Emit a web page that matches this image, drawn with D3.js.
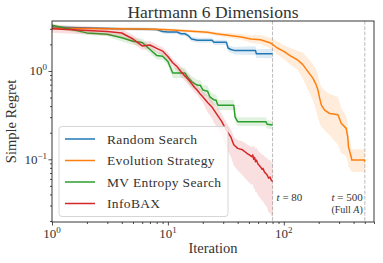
<!DOCTYPE html>
<html>
<head>
<meta charset="utf-8">
<script src="https://cdn.jsdelivr.net/npm/d3@7/dist/d3.min.js"></script>
<style>
  body { margin: 0; background: #fff; }
</style>
</head>
<body>
<div id="chart"></div>
<script>
// values
const seriesNames = ["Random Search", "Evolution Strategy", "MV Entropy Search", "InfoBAX"];
const seriesColors = ["#1f77b4", "#ff7f0e", "#2ca02c", "#d62728"];

const rsIter = [1, 2, 4, 8, 9, 10, 12, 13, 14, 15, 16, 18, 24, 25, 32, 33, 35, 38, 57, 58, 80];
const rsMean = [3.15, 3.06, 3.00, 2.94, 2.80, 2.76, 2.76, 2.64, 2.64, 2.51, 2.30, 2.23, 2.23, 2.11, 2.11, 1.82, 1.75, 1.70, 1.70, 1.57, 1.57];
const rsLo = [3.06, 2.96, 2.90, 2.83, 2.66, 2.62, 2.62, 2.49, 2.49, 2.37, 2.16, 2.09, 2.09, 1.97, 1.97, 1.67, 1.60, 1.54, 1.52, 1.40, 1.39];
const rsHi = [3.24, 3.16, 3.10, 3.06, 2.94, 2.90, 2.90, 2.80, 2.80, 2.66, 2.45, 2.38, 2.38, 2.26, 2.26, 1.98, 1.91, 1.87, 1.90, 1.76, 1.78];

const esIter = [1, 6, 9, 11, 16, 22, 26, 33, 43, 52, 63, 77, 88, 100, 115, 131, 146, 161, 178, 190, 197, 204, 211, 225, 249, 293, 313, 345, 356, 361, 381, 386, 496, 500];
const esMean = [3.05, 2.99, 2.95, 2.91, 2.82, 2.74, 2.64, 2.54, 2.43, 2.30, 2.26, 2.07, 1.82, 1.67, 1.47, 1.34, 1.18, 0.99, 0.83, 0.70, 0.61, 0.49, 0.41, 0.36, 0.33, 0.32, 0.256, 0.224, 0.180, 0.139, 0.107, 0.098, 0.098, 0.094];
const esLo = [2.93, 2.88, 2.84, 2.80, 2.71, 2.63, 2.51, 2.40, 2.25, 2.09, 2.02, 1.80, 1.54, 1.36, 1.17, 1.03, 0.82, 0.62, 0.47, 0.36, 0.30, 0.255, 0.23, 0.214, 0.186, 0.146, 0.117, 0.108, 0.094, 0.083, 0.074, 0.072, 0.072, 0.069];
const esHi = [3.17, 3.11, 3.07, 3.03, 2.93, 2.85, 2.77, 2.69, 2.62, 2.53, 2.53, 2.38, 2.15, 1.95, 1.81, 1.69, 1.62, 1.39, 1.20, 1.04, 0.90, 0.74, 0.66, 0.60, 0.55, 0.51, 0.38, 0.31, 0.25, 0.19, 0.142, 0.130, 0.130, 0.125];

const mvIter = [1, 2, 3, 4, 5, 6, 7, 8, 9, 10, 11, 14, 15, 16, 17, 18, 19, 20, 22, 23, 25, 26, 27, 37, 38, 40, 70, 72, 80];
const mvMean = [3.29, 2.70, 2.60, 2.38, 2.17, 2.10, 1.75, 1.50, 1.47, 1.28, 0.95, 0.95, 0.83, 0.76, 0.72, 0.69, 0.69, 0.61, 0.59, 0.51, 0.47, 0.47, 0.41, 0.41, 0.30, 0.267, 0.267, 0.249, 0.245];
const mvLo = [3.13, 2.57, 2.48, 2.16, 1.97, 1.91, 1.59, 1.36, 1.34, 1.16, 0.83, 0.83, 0.72, 0.66, 0.63, 0.60, 0.60, 0.53, 0.51, 0.44, 0.41, 0.41, 0.36, 0.36, 0.27, 0.238, 0.238, 0.222, 0.219];
const mvHi = [3.45, 2.84, 2.73, 2.62, 2.39, 2.31, 1.93, 1.65, 1.62, 1.41, 1.09, 1.09, 0.95, 0.87, 0.83, 0.79, 0.79, 0.70, 0.68, 0.59, 0.54, 0.54, 0.47, 0.47, 0.34, 0.299, 0.299, 0.279, 0.274];

const ibIter = [1, 2, 3, 4, 5, 6, 7, 8, 9, 10, 11, 12, 13, 14, 15, 16, 17, 18, 19, 20, 22, 24, 25, 27, 29, 31, 33, 35, 37, 40, 44, 48, 50, 53, 54, 55, 56, 57, 58, 60, 61, 63, 65, 66, 68, 70, 72, 74, 76, 78, 80];
const ibMean = [3.01, 2.88, 2.79, 2.69, 2.30, 1.92, 1.97, 1.80, 1.68, 1.46, 1.24, 1.12, 0.98, 0.88, 0.80, 0.72, 0.65, 0.60, 0.55, 0.51, 0.44, 0.39, 0.36, 0.31, 0.27, 0.23, 0.20, 0.178, 0.146, 0.133, 0.128, 0.117, 0.113, 0.107, 0.112, 0.100, 0.105, 0.094, 0.098, 0.088, 0.086, 0.082, 0.077, 0.079, 0.072, 0.069, 0.066, 0.061, 0.063, 0.058, 0.056];
const ibLo = [2.71, 2.59, 2.51, 2.42, 2.07, 1.73, 1.77, 1.62, 1.51, 1.32, 1.12, 1.01, 0.86, 0.77, 0.70, 0.63, 0.57, 0.53, 0.48, 0.44, 0.34, 0.29, 0.26, 0.22, 0.19, 0.15, 0.125, 0.106, 0.085, 0.075, 0.066, 0.058, 0.055, 0.051, 0.053, 0.046, 0.048, 0.042, 0.043, 0.039, 0.038, 0.036, 0.034, 0.034, 0.031, 0.030, 0.028, 0.025, 0.025, 0.023, 0.022];
const ibHi = [3.34, 3.20, 3.10, 2.99, 2.55, 2.13, 2.19, 2.00, 1.86, 1.62, 1.38, 1.24, 1.12, 1.00, 0.91, 0.82, 0.74, 0.68, 0.63, 0.59, 0.53, 0.47, 0.43, 0.38, 0.33, 0.28, 0.245, 0.22, 0.18, 0.165, 0.16, 0.148, 0.143, 0.137, 0.145, 0.135, 0.142, 0.130, 0.136, 0.125, 0.122, 0.118, 0.112, 0.114, 0.108, 0.105, 0.103, 0.097, 0.100, 0.093, 0.090];

const xMajor = [1, 10, 100];
const yMajor = [0.1, 1];
const xMinor = [2, 3, 4, 5, 6, 7, 8, 9, 20, 30, 40, 50, 60, 70, 80, 90, 200, 300, 400, 500, 600];
const yMinor = [0.02, 0.03, 0.04, 0.05, 0.06, 0.07, 0.08, 0.09, 0.2, 0.3, 0.4, 0.5, 0.6, 0.7, 0.8, 0.9, 2, 3];
const budgetLines = [80, 500];

const W = 383, H = 263;
const margin = {top: 21, right: 9, bottom: 41, left: 52},
    width = W - margin.left - margin.right,
    height = H - margin.top - margin.bottom;
const serif = "'Liberation Serif', 'Times New Roman', 'DejaVu Serif', serif";
const ink = "#333";

const svg = d3.select("#chart")
  .append("svg")
    .attr("width", W)
    .attr("height", H)
    .attr("font-family", serif)
    .style("font-family", serif);

const g = svg.append("g")
    .attr("transform", `translate(${margin.left}, ${margin.top})`);

const x = d3.scaleLog().domain([1, 600]).range([0, width]);
const y = d3.scaleLog().domain([0.0195, 3.68]).range([height, 0]);

g.append("clipPath").attr("id", "plotclip")
  .append("rect").attr("width", width).attr("height", height);

const plot = g.append("g").attr("clip-path", "url(#plotclip)");

// dashed budget markers
plot.selectAll("budget")
  .data(budgetLines)
  .enter()
  .append("line")
    .attr("x1", d => x(d)).attr("x2", d => x(d))
    .attr("y1", 0).attr("y2", height)
    .attr("stroke", "#bbb")
    .attr("stroke-width", 1)
    .attr("stroke-dasharray", "3.7,1.6");

const series = [
  {iter: rsIter, mean: rsMean, lo: rsLo, hi: rsHi},
  {iter: esIter, mean: esMean, lo: esLo, hi: esHi},
  {iter: mvIter, mean: mvMean, lo: mvLo, hi: mvHi},
  {iter: ibIter, mean: ibMean, lo: ibLo, hi: ibHi}
].map((s, i) => ({
  name: seriesNames[i],
  color: seriesColors[i],
  rows: s.iter.map((t, j) => ({t: t, v: s.mean[j], lo: s.lo[j], hi: s.hi[j]}))
}));

const band = d3.area()
  .x(d => x(d.t))
  .y0(d => y(d.lo))
  .y1(d => y(d.hi));

const line = d3.line()
  .x(d => x(d.t))
  .y(d => y(d.v));

series.forEach(function(s) {
  plot.append("path")
    .datum(s.rows)
    .attr("d", band)
    .attr("fill", s.color)
    .attr("fill-opacity", 0.15)
    .attr("stroke", "none");
  plot.append("path")
    .datum(s.rows)
    .attr("d", line)
    .attr("fill", "none")
    .attr("stroke", s.color)
    .attr("stroke-width", 1.5)
    .attr("stroke-linejoin", "round");
});

// annotations
const annot = g.append("g").attr("font-size", 11).attr("fill", ink);
annot.append("text")
  .attr("x", x(80) + 4).attr("y", 180)
  .html('<tspan font-style="italic">t</tspan> = 80');
annot.append("text")
  .attr("x", x(500) - 2).attr("y", 180)
  .attr("text-anchor", "end")
  .html('<tspan font-style="italic">t</tspan> = 500');
annot.append("text")
  .attr("x", x(500) - 2).attr("y", 192)
  .attr("text-anchor", "end")
  .attr("font-size", 10)
  .html('(Full <tspan font-style="italic">A</tspan>)');

// axes
g.append("g")
  .attr("transform", `translate(0, ${height})`)
  .call(d3.axisBottom(x).tickValues(xMajor).tickSize(3.5).tickFormat(""));
g.append("g")
  .attr("transform", `translate(0, ${height})`)
  .call(d3.axisBottom(x).tickValues(xMinor).tickSize(2).tickFormat(""));
g.append("g")
  .call(d3.axisLeft(y).tickValues(yMajor).tickSize(3.5).tickFormat(""));
g.append("g")
  .call(d3.axisLeft(y).tickValues(yMinor).tickSize(2).tickFormat(""));
g.selectAll(".domain").remove();
g.selectAll(".tick line").attr("stroke", "#222").attr("stroke-width", 0.8);

const expo = v => Math.round(Math.log10(v));
const supLabel = function(sel, v) {
  const e = expo(v);
  sel.append("tspan").text("10");
  sel.append("tspan")
    .attr("dy", -5)
    .attr("font-size", 9)
    .text(e < 0 ? "\u2212" + (-e) : String(e));
};

xMajor.forEach(function(v) {
  const t = g.append("text")
    .attr("x", x(v))
    .attr("y", height + 16)
    .attr("text-anchor", "middle")
    .attr("font-size", 13)
    .attr("fill", ink);
  supLabel(t, v);
});

yMajor.forEach(function(v) {
  const t = g.append("text")
    .attr("x", -5)
    .attr("y", y(v) + 4.5)
    .attr("text-anchor", "end")
    .attr("font-size", 13)
    .attr("fill", ink);
  supLabel(t, v);
});

// frame
g.append("rect")
  .attr("width", width)
  .attr("height", height)
  .attr("fill", "none")
  .attr("stroke", "#222")
  .attr("stroke-width", 0.9);

// labels
svg.append("text")
  .attr("x", margin.left + width / 2)
  .attr("y", 18)
  .attr("text-anchor", "middle")
  .attr("font-size", 17.5)
  .attr("fill", ink)
  .text("Hartmann 6 Dimensions");

svg.append("text")
  .attr("x", margin.left + width / 2)
  .attr("y", 253)
  .attr("text-anchor", "middle")
  .attr("font-size", 14.5)
  .attr("fill", ink)
  .text("Iteration");

svg.append("text")
  .attr("transform", `translate(16, ${margin.top + height / 2}) rotate(-90)`)
  .attr("text-anchor", "middle")
  .attr("font-size", 14.5)
  .attr("fill", ink)
  .text("Simple Regret");

// legend
const legend = svg.append("g").attr("transform", "translate(59, 126.5)");
legend.append("rect")
  .attr("width", 169)
  .attr("height", 90)
  .attr("rx", 3)
  .attr("fill", "#fff")
  .attr("fill-opacity", 0.8)
  .attr("stroke", "#ccc")
  .attr("stroke-width", 0.8);

seriesNames.forEach(function(name, i) {
  const ly = 12.5 + i * 21.5;
  legend.append("line")
    .attr("x1", 6).attr("x2", 36)
    .attr("y1", ly).attr("y2", ly)
    .attr("stroke", seriesColors[i])
    .attr("stroke-width", 1.5);
  legend.append("text")
    .attr("x", 48)
    .attr("y", ly + 4.5)
    .attr("font-size", 13.5)
    .attr("letter-spacing", 0.35)
    .attr("fill", ink)
    .text(name);
});
</script>
</body>
</html>
